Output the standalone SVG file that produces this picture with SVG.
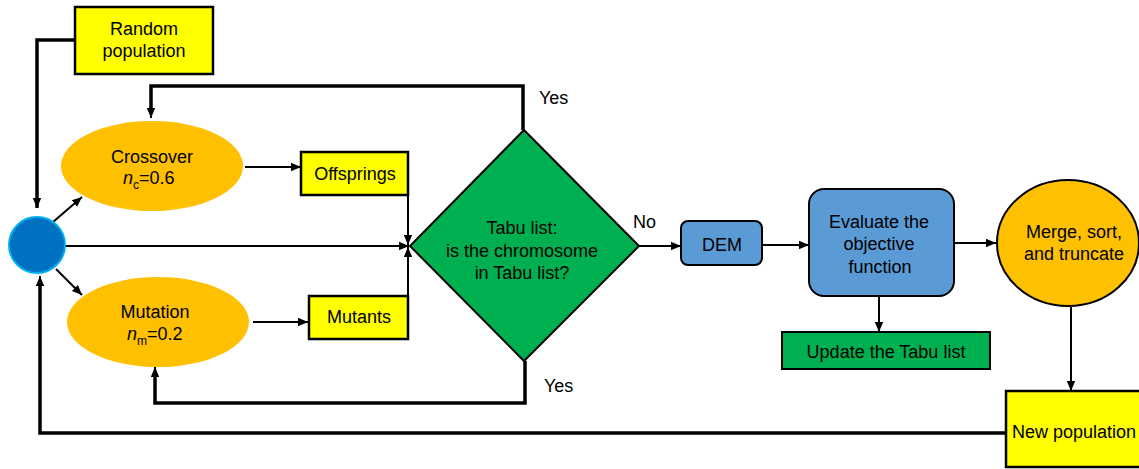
<svg xmlns="http://www.w3.org/2000/svg" width="1139" height="469" viewBox="0 0 1139 469">
<style>
text{font-family:"Liberation Sans",Arial,sans-serif;font-size:18px;fill:#000}
.c{text-anchor:middle}
.ln{fill:none;stroke:#000;stroke-width:2}
.th{fill:none;stroke:#000;stroke-width:3.5}
.yb{fill:#FFFF00;stroke:#000;stroke-width:2.5}
.or{fill:#FFC000}
.bl{fill:#5B9BD5;stroke:#000;stroke-width:2}
.gr{fill:#00B050;stroke:#000;stroke-width:2}
</style>
<defs>
<marker id="ah" markerUnits="userSpaceOnUse" markerWidth="10" markerHeight="10" viewBox="0 0 10 10" refX="10" refY="5" orient="auto">
<path d="M0,0.8 L10,5 L0,9.2 Z" fill="#000"/>
</marker>
</defs>
<g id="connectors">
<polyline class="th" points="75,40 37,40 37,208" marker-end="url(#ah)"/>
<line class="ln" x1="53" y1="222" x2="82" y2="197" marker-end="url(#ah)"/>
<line class="ln" x1="56" y1="269" x2="82" y2="295" marker-end="url(#ah)"/>
<line class="ln" x1="65" y1="246" x2="409" y2="246" marker-end="url(#ah)"/>
<line class="ln" x1="245" y1="167" x2="301" y2="167" marker-end="url(#ah)"/>
<line class="ln" x1="253" y1="322" x2="308" y2="322" marker-end="url(#ah)"/>
<polyline class="ln" points="408,195 408,245" marker-end="url(#ah)"/>
<polyline class="ln" points="408,296 408,247" marker-end="url(#ah)"/>
<polyline class="th" points="523,130 523,86 151,86 151,112"/>
<line class="ln" x1="151" y1="100" x2="151" y2="118" marker-end="url(#ah)"/>
<polyline class="th" points="525,361 525,403 155,403 155,375"/>
<line class="ln" x1="155" y1="385" x2="155" y2="367" marker-end="url(#ah)"/>
<line class="ln" x1="639" y1="246" x2="681" y2="246" marker-end="url(#ah)"/>
<line class="ln" x1="762" y1="245" x2="809" y2="245" marker-end="url(#ah)"/>
<line class="ln" x1="879" y1="296" x2="879" y2="332" marker-end="url(#ah)"/>
<line class="ln" x1="954" y1="243" x2="996" y2="243" marker-end="url(#ah)"/>
<line class="ln" x1="1071" y1="307" x2="1071" y2="391" marker-end="url(#ah)"/>
<polyline class="th" points="1006,433 40,433 40,285"/>
<line class="ln" x1="40" y1="290" x2="40" y2="276" marker-end="url(#ah)"/>
<text x="539" y="104">Yes</text>
<text x="544" y="392">Yes</text>
<text x="633" y="228">No</text>
</g>
<g id="random-population">
<rect class="yb" x="75" y="7" width="138" height="67"/>
<text class="c" x="144" y="35">Random</text>
<text class="c" x="144" y="57">population</text>
</g>
<g id="start">
<circle cx="37" cy="245" r="28" fill="#0070C0" stroke="#00B0F0" stroke-width="2"/>
</g>
<g id="crossover">
<ellipse class="or" cx="152" cy="166" rx="91" ry="45"/>
<text class="c" x="152" y="163">Crossover</text>
<text x="123" y="184"><tspan font-style="italic">n</tspan><tspan font-size="12" dy="5">c</tspan><tspan dy="-5">=0.6</tspan></text>
</g>
<g id="mutation">
<ellipse class="or" cx="158" cy="322" rx="91" ry="45"/>
<text class="c" x="155" y="318">Mutation</text>
<text x="127" y="340"><tspan font-style="italic">n</tspan><tspan font-size="12" dy="5">m</tspan><tspan dy="-5">=0.2</tspan></text>
</g>
<g id="offsprings">
<rect class="yb" x="301" y="152" width="107" height="43"/>
<text class="c" x="355" y="180">Offsprings</text>
</g>
<g id="mutants">
<rect class="yb" x="309" y="296" width="99" height="43"/>
<text class="c" x="359" y="323">Mutants</text>
</g>
<g id="tabu-check">
<polygon points="524,130 639,246 524,361 410,246" fill="#00B050" stroke="#000" stroke-width="2"/>
<text class="c" x="522" y="234">Tabu list:</text>
<text class="c" x="522" y="257">is the chromosome</text>
<text class="c" x="522" y="279">in Tabu list?</text>
</g>
<g id="dem">
<rect class="bl" x="681" y="221" width="81" height="44" rx="7"/>
<text class="c" x="722" y="251">DEM</text>
</g>
<g id="evaluate">
<rect class="bl" x="809" y="189" width="145" height="107" rx="15"/>
<text class="c" x="879" y="228">Evaluate the</text>
<text class="c" x="879" y="250">objective</text>
<text class="c" x="880" y="273">function</text>
</g>
<g id="update-tabu">
<rect class="gr" x="782" y="332" width="208" height="37"/>
<text class="c" x="886" y="358">Update the Tabu list</text>
</g>
<g id="merge">
<ellipse cx="1068" cy="243" rx="71" ry="63" fill="#FFC000" stroke="#000" stroke-width="2"/>
<text class="c" x="1074" y="238">Merge, sort,</text>
<text class="c" x="1074" y="260">and truncate</text>
</g>
<g id="new-population">
<rect class="yb" x="1006" y="391" width="140" height="76"/>
<text x="1012" y="438">New population</text>
</g>
</svg>
